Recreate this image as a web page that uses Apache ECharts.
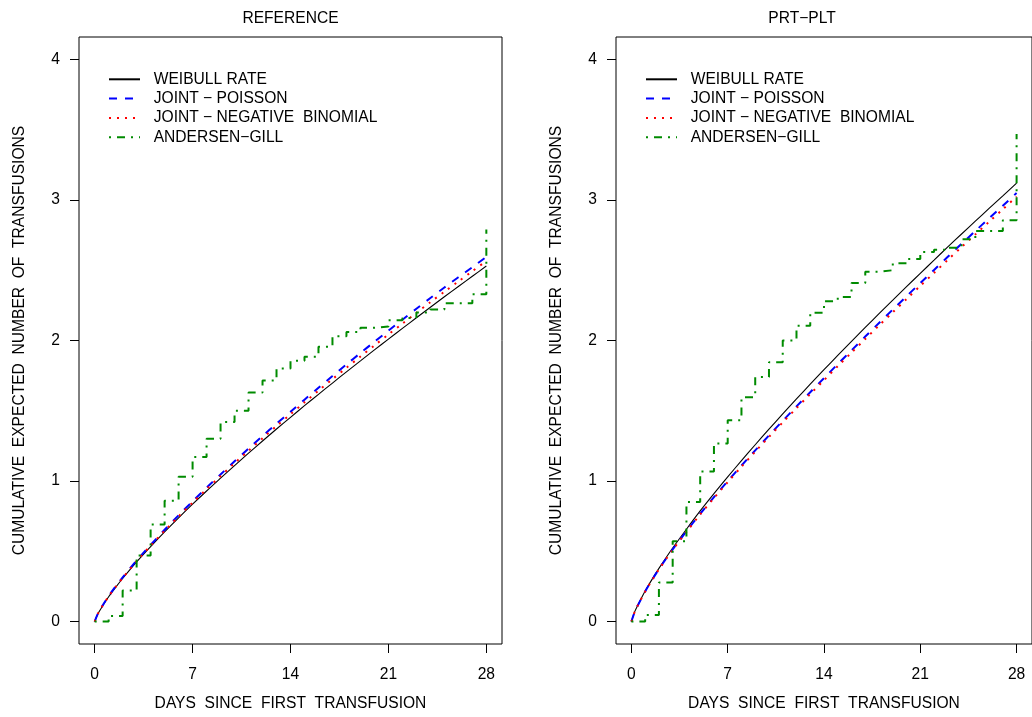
<!DOCTYPE html>
<html><head><meta charset="utf-8">
<script src="https://cdn.jsdelivr.net/npm/echarts@6/dist/echarts.min.js"></script>
<style>html,body{margin:0;padding:0;background:#fff}#c{width:1032px;height:717px}</style>
</head><body><div id="c"></div>
<script>
// ---- data ----
const panelTitles = ['REFERENCE', 'PRT\u2212PLT'];
const seriesNames = ['WEIBULL RATE', 'JOINT \u2212 POISSON', 'JOINT \u2212 NEGATIVE  BINOMIAL', 'ANDERSEN\u2212GILL'];
const xTicks = [0, 7, 14, 21, 28];
const yTicks = [0, 1, 2, 3, 4];

const curveDays = [0, 0.25, 0.5, 1, 1.5, 2, 3, 4, 5, 6, 7, 8, 9, 10, 11, 12, 13, 14, 15, 16, 17, 18, 19, 20, 21, 22, 23, 24, 25, 26, 27, 28];

const refWeibull = [0, 0.058, 0.100, 0.176, 0.243, 0.306, 0.424, 0.533, 0.638, 0.738, 0.835, 0.929, 1.020, 1.110, 1.198, 1.285, 1.370, 1.453, 1.536, 1.617, 1.697, 1.777, 1.855, 1.933, 2.010, 2.086, 2.162, 2.237, 2.311, 2.384, 2.457, 2.530];
const refPoisson = [0, 0.060, 0.103, 0.181, 0.250, 0.314, 0.434, 0.545, 0.653, 0.756, 0.855, 0.952, 1.047, 1.140, 1.231, 1.320, 1.408, 1.493, 1.579, 1.664, 1.747, 1.830, 1.911, 1.991, 2.070, 2.148, 2.226, 2.302, 2.377, 2.450, 2.522, 2.595];
const refNegBin = [0, 0.059, 0.102, 0.179, 0.247, 0.310, 0.430, 0.540, 0.646, 0.748, 0.846, 0.942, 1.035, 1.127, 1.216, 1.304, 1.391, 1.475, 1.560, 1.643, 1.725, 1.806, 1.886, 1.965, 2.043, 2.120, 2.197, 2.273, 2.347, 2.420, 2.493, 2.566];

const prtWeibull = [0, 0.072, 0.123, 0.217, 0.300, 0.378, 0.523, 0.657, 0.787, 0.910, 1.029, 1.145, 1.258, 1.369, 1.477, 1.584, 1.689, 1.792, 1.894, 1.994, 2.093, 2.191, 2.287, 2.383, 2.478, 2.572, 2.666, 2.758, 2.849, 2.940, 3.029, 3.120];
const prtPoisson = [0, 0.071, 0.121, 0.214, 0.296, 0.373, 0.513, 0.642, 0.767, 0.885, 0.999, 1.110, 1.218, 1.324, 1.428, 1.531, 1.632, 1.732, 1.832, 1.930, 2.028, 2.125, 2.220, 2.315, 2.409, 2.502, 2.596, 2.688, 2.779, 2.870, 2.959, 3.050];
const prtNegBin = [0, 0.071, 0.121, 0.213, 0.294, 0.371, 0.510, 0.638, 0.762, 0.879, 0.992, 1.102, 1.209, 1.314, 1.417, 1.519, 1.619, 1.718, 1.817, 1.914, 2.011, 2.107, 2.201, 2.295, 2.389, 2.481, 2.574, 2.665, 2.755, 2.845, 2.934, 3.025];

const stepDays = [0, 1, 2, 3, 4, 5, 6, 7, 8, 9, 10, 11, 12, 13, 14, 15, 16, 17, 18, 19, 20, 21, 22, 23, 24, 25, 26, 27, 28];
const refAG = [0, 0.04, 0.22, 0.47, 0.69, 0.86, 1.03, 1.17, 1.30, 1.42, 1.50, 1.63, 1.715, 1.80, 1.855, 1.885, 1.955, 2.03, 2.06, 2.09, 2.10, 2.145, 2.16, 2.20, 2.22, 2.265, 2.265, 2.33, 2.79];
const prtAG = [0, 0.047, 0.278, 0.572, 0.85, 1.067, 1.267, 1.432, 1.597, 1.74, 1.845, 2.0, 2.105, 2.198, 2.28, 2.31, 2.41, 2.49, 2.50, 2.55, 2.58, 2.63, 2.645, 2.66, 2.72, 2.78, 2.78, 2.855, 3.47];

// ---- chart ----
const FF = '"Liberation Sans", Arial, Helvetica, sans-serif';
const FS = 15.6;
const pairs = (xs, ys) => xs.map((x, i) => [x, ys[i]]);

const styles = [
  { color: '#000000', width: 1.1, type: 'solid' },
  { color: '#0000FF', width: 2, type: [8, 8] },
  { color: '#FF0000', width: 2, type: [2, 6] },
  { color: '#008B00', width: 2, type: [2, 6, 8, 6] }
];

const panels = [
  { curves: [refWeibull, refPoisson, refNegBin], ag: refAG, left: 79, titleX: 290.5 },
  { curves: [prtWeibull, prtPoisson, prtNegBin], ag: prtAG, left: 616, titleX: 802 }
];

const grids = [], xAxes = [], yAxes = [], series = [], legends = [], graphics = [];
panels.forEach((p, gi) => {
  grids.push({ left: p.left, top: 37, width: 423, height: 611, show: true,
    borderColor: '#000', borderWidth: 1, backgroundColor: 'transparent' });
  xAxes.push({ type: 'value', gridIndex: gi, min: -1.12, max: 29.12,
    axisLine: { show: false, onZero: false }, splitLine: { show: false },
    axisTick: { show: true, length: 9, customValues: xTicks, lineStyle: { color: '#000', width: 1 } },
    axisLabel: { customValues: xTicks, margin: 23, color: '#000', fontSize: FS, fontFamily: FF },
    name: 'DAYS  SINCE  FIRST  TRANSFUSION', nameLocation: 'middle', nameGap: 52,
    nameTextStyle: { color: '#000', fontSize: FS, fontFamily: FF } });
  yAxes.push({ type: 'value', gridIndex: gi, min: -0.16, max: 4.16,
    axisLine: { show: false, onZero: false }, splitLine: { show: false },
    axisTick: { show: true, length: 9, customValues: yTicks, lineStyle: { color: '#000', width: 1 } },
    axisLabel: { customValues: yTicks, margin: 19, color: '#000', fontSize: FS, fontFamily: FF },
    name: 'CUMULATIVE  EXPECTED  NUMBER  OF  TRANSFUSIONS', nameLocation: 'middle', nameGap: 51,
    nameTextStyle: { color: '#000', fontSize: FS, fontFamily: FF } });
  p.curves.forEach((vals, k) => {
    series.push({ type: 'line', name: seriesNames[k], xAxisIndex: gi, yAxisIndex: gi,
      data: pairs(curveDays, vals), symbol: 'none', smooth: 0.3, silent: true,
      lineStyle: { color: styles[k].color, width: styles[k].width, type: styles[k].type },
      itemStyle: { color: styles[k].color } });
  });
  series.push({ type: 'line', name: seriesNames[3], xAxisIndex: gi, yAxisIndex: gi,
    data: pairs(stepDays, p.ag), step: 'end', symbol: 'none', silent: true,
    lineStyle: { color: styles[3].color, width: styles[3].width, type: styles[3].type },
    itemStyle: { color: styles[3].color } });
  legends.push({ left: p.left + 29, top: 71.3, padding: 0, orient: 'vertical', data: seriesNames,
    selectedMode: false, itemWidth: 31, itemHeight: 14, itemGap: 3.3,
    itemStyle: { opacity: 0 },
    lineStyle: { width: 2 },
    textStyle: { color: '#000', fontSize: FS, fontFamily: FF, lineHeight: 14, padding: [0, 0, 0, 8.7] } });
  graphics.push({ type: 'text', x: p.titleX, y: 18.5,
    style: { text: panelTitles[gi], fill: '#000', font: FS + 'px ' + FF, textAlign: 'center', textVerticalAlign: 'middle' } });
});

const chart = echarts.init(document.getElementById('c'), null, { renderer: 'canvas' });
chart.setOption({
  backgroundColor: '#fff', animation: false,
  grid: grids, xAxis: xAxes, yAxis: yAxes, series: series, legend: legends, graphic: graphics
});
</script></body></html>
